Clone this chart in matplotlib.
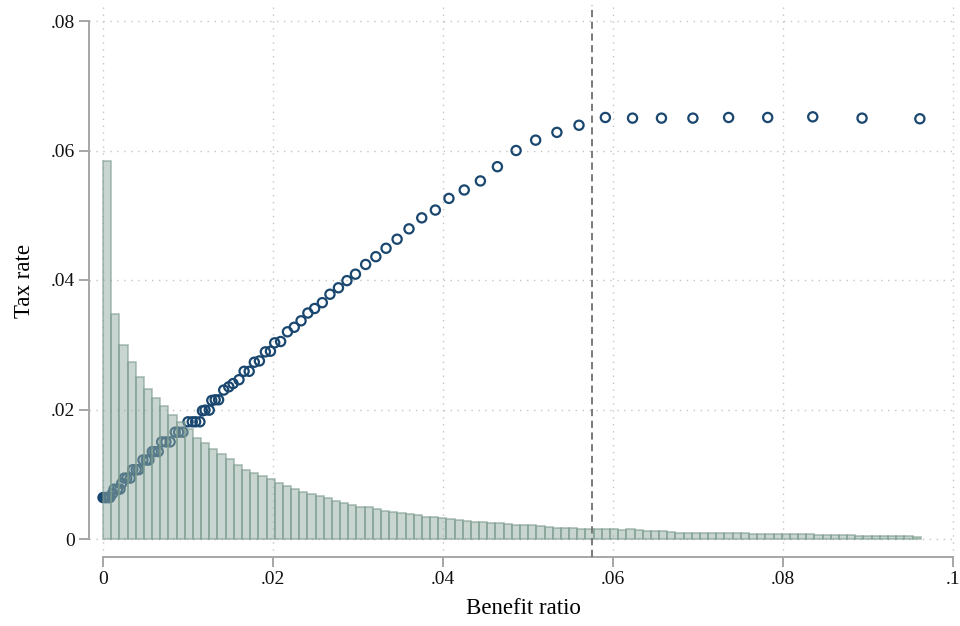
import numpy as np
import matplotlib
matplotlib.use("Agg")
import matplotlib.pyplot as plt

# histogram of the benefit ratio (100 bins from 0 to the maximum)
hist_max = 0.0962
hist_heights = [
    0.0584, 0.0347, 0.0300, 0.0273, 0.0250, 0.0232, 0.0218, 0.0206, 0.0191, 0.0181,
    0.0170, 0.0156, 0.0148, 0.0139, 0.0131, 0.0123, 0.0115, 0.0107, 0.0102, 0.0097,
    0.0092, 0.0086, 0.0082, 0.0077, 0.0072, 0.0070, 0.0066, 0.0063, 0.0059, 0.0055,
    0.0053, 0.0050, 0.0050, 0.0047, 0.0044, 0.0042, 0.0040, 0.0038, 0.0037, 0.0034,
    0.0034, 0.0033, 0.0031, 0.0030, 0.0028, 0.0027, 0.0026, 0.0025, 0.0024, 0.0023,
    0.0022, 0.0022, 0.0021, 0.0020, 0.0019, 0.0017, 0.0017, 0.0017, 0.0016, 0.0016,
    0.0016, 0.0015, 0.0015, 0.0014, 0.0015, 0.0014, 0.0012, 0.0013, 0.0012, 0.0011,
    0.0010, 0.0010, 0.0010, 0.0010, 0.0010, 0.0009, 0.0009, 0.0009, 0.0009, 0.0008,
    0.0008, 0.0008, 0.0008, 0.0007, 0.0007, 0.0008, 0.0008, 0.0006, 0.0006, 0.0006,
    0.0006, 0.0006, 0.0005, 0.0005, 0.0005, 0.0005, 0.0005, 0.0004, 0.0004, 0.0003,
]

# binned scatter: benefit ratio vs tax rate
benefit_ratio = [
    0.0000, 0.0002, 0.0004, 0.0006, 0.0008, 0.0011, 0.0013, 0.0017, 0.0020, 0.0022,
    0.0025, 0.0028, 0.0032, 0.0035, 0.0039, 0.0042, 0.0047, 0.0051, 0.0054, 0.0058,
    0.0061, 0.0065, 0.0069, 0.0074, 0.0079, 0.0085, 0.0089, 0.0094, 0.0100, 0.0105,
    0.0109, 0.0114, 0.0117, 0.0120, 0.0125, 0.0128, 0.0132, 0.0136, 0.0142, 0.0148,
    0.0153, 0.0160, 0.0166, 0.0172, 0.0178, 0.0184, 0.0191, 0.0197, 0.0202, 0.0209,
    0.0217, 0.0225, 0.0233, 0.0241, 0.0249, 0.0258, 0.0267, 0.0277, 0.0287, 0.0297,
    0.0309, 0.0321, 0.0333, 0.0346, 0.0360, 0.0375, 0.0391, 0.0407, 0.0425, 0.0444,
    0.0464, 0.0486, 0.0509, 0.0534, 0.0560, 0.0591, 0.0623, 0.0657, 0.0694, 0.0736,
    0.0782, 0.0835, 0.0893, 0.0961,
]
tax_rate = [
    0.0064, 0.0064, 0.0064, 0.0064, 0.0064, 0.0070, 0.0077, 0.0077, 0.0077, 0.0086,
    0.0094, 0.0094, 0.0094, 0.0107, 0.0107, 0.0107, 0.0122, 0.0122, 0.0122, 0.0135,
    0.0135, 0.0135, 0.0150, 0.0150, 0.0150, 0.0165, 0.0165, 0.0165, 0.0181, 0.0181,
    0.0181, 0.0181, 0.0198, 0.0199, 0.0199, 0.0214, 0.0215, 0.0215, 0.0230, 0.0235,
    0.0240, 0.0246, 0.0259, 0.0259, 0.0273, 0.0275, 0.0289, 0.0290, 0.0303, 0.0305,
    0.0320, 0.0327, 0.0337, 0.0349, 0.0356, 0.0365, 0.0378, 0.0388, 0.0399, 0.0409,
    0.0424, 0.0436, 0.0449, 0.0463, 0.0479, 0.0496, 0.0508, 0.0526, 0.0539, 0.0553,
    0.0575, 0.0600, 0.0616, 0.0628, 0.0639, 0.0651, 0.0650, 0.0650, 0.0650, 0.0651,
    0.0651, 0.0652, 0.0650, 0.0649,
]

kink = 0.0575
x_ticks = [0, 0.02, 0.04, 0.06, 0.08, 0.1]
x_labels = ["0", ".02", ".04", ".06", ".08", ".1"]
y_ticks = [0, 0.02, 0.04, 0.06, 0.08]
y_labels = ["0", ".02", ".04", ".06", ".08"]

navy = "#1a476f"
axis_gray = "#a6a6a6"

plt.rcParams["font.family"] = ["Liberation Serif", "DejaVu Serif"]

fig = plt.figure(figsize=(9.6, 6.26), dpi=100)
ax = fig.add_axes([89 / 960, 69 / 626, 868 / 960, 552 / 626])

# scatter first, the translucent histogram goes on top of it
ax.scatter(benefit_ratio, tax_rate, s=44, facecolors="none", edgecolors=navy,
           linewidths=1.6, zorder=2)

n_bins = len(hist_heights)
edges = np.linspace(0, hist_max, n_bins + 1)
ax.bar(edges[:-1], hist_heights, width=hist_max / n_bins, align="edge",
       facecolor=(0.576, 0.678, 0.639, 0.5), edgecolor=(0.47, 0.60, 0.54, 0.6),
       linewidth=1.2, zorder=3)

ax.axvline(kink, color="#707070", linestyle=(0, (4, 2.5)), linewidth=1.3, zorder=4)

ax.set_xlim(-14 / 8500, 854 / 8500)
ax.set_ylim(-18 / 6475, 534 / 6475)

ax.set_xticks(x_ticks)
ax.set_xticklabels(x_labels)
ax.set_yticks(y_ticks)
ax.set_yticklabels(y_labels)

ax.grid(True, color="#c4c4c4", linestyle=(0, (1, 4)), linewidth=1.0, zorder=0)
ax.set_axisbelow(True)

for side in ["top", "right"]:
    ax.spines[side].set_visible(False)
for side in ["left", "bottom"]:
    ax.spines[side].set_color(axis_gray)
    ax.spines[side].set_linewidth(1.4)
ax.spines["left"].set_bounds(0, 0.08)
ax.spines["bottom"].set_bounds(0, 0.1)

ax.tick_params(axis="both", direction="out", length=7, width=1.4, color=axis_gray,
               labelsize=14, labelcolor="#111111", pad=3)

ax.set_xlabel("Benefit ratio", fontsize=16.5, labelpad=7)
ax.set_ylabel("Tax rate", fontsize=16.5, labelpad=11)

fig.savefig("out.png", dpi=100)
